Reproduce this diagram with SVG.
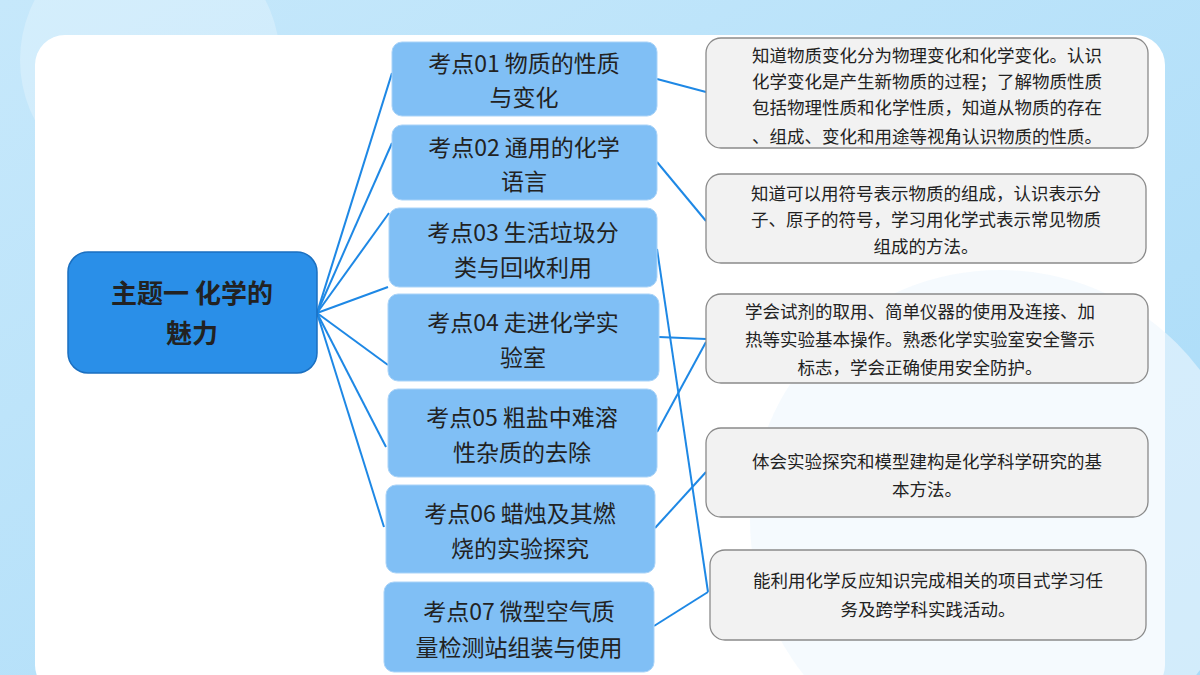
<svg xmlns="http://www.w3.org/2000/svg" width="1200" height="675" viewBox="0 0 1200 675">
<defs>
<linearGradient id="bg" x1="0" y1="0" x2="1" y2="1"><stop offset="0" stop-color="#c6e8fb"/><stop offset="1" stop-color="#a9dbf8"/></linearGradient>
<style>
.t{font-family:"Noto Sans CJK SC","Noto Sans",sans-serif;fill:#222;text-anchor:middle}
.k{fill:#80bff5;stroke:#a9d3f8;stroke-width:1}
.d{fill:#f2f2f2;stroke:#8a8a8a;stroke-width:1.3}
.tk{font-size:23px}
.td{font-size:17.5px}
#conn line,#conn polyline{stroke:#1e88e5;stroke-width:2;fill:none}
</style>
</defs>
<rect width="1200" height="675" fill="url(#bg)"/>
<circle cx="150" cy="60" r="130" fill="#fff" opacity="0.25"/>
<rect x="35" y="35" width="1130" height="660" rx="30" fill="#fff"/>
<circle cx="1000" cy="520" r="250" fill="#eef7fd" opacity="0.6"/>
<g id="conn">
<line x1="317" y1="313" x2="392" y2="73"/>
<line x1="317" y1="313" x2="392" y2="143"/>
<line x1="317" y1="313" x2="389" y2="213"/>
<line x1="317" y1="313" x2="388" y2="287"/>
<line x1="317" y1="313" x2="388" y2="365"/>
<line x1="317" y1="313" x2="386" y2="447"/>
<line x1="317" y1="313" x2="384" y2="527"/>
<line x1="657" y1="79" x2="706" y2="92"/>
<line x1="657" y1="162" x2="706" y2="221"/>
<line x1="657" y1="249" x2="708" y2="592"/>
<line x1="659" y1="337" x2="706" y2="339"/>
<line x1="657" y1="432" x2="706" y2="342"/>
<line x1="655" y1="528" x2="706" y2="472"/>
<line x1="654" y1="626" x2="708" y2="592"/>
</g>
<g id="main">
<rect x="68" y="252" width="249" height="121" rx="20" fill="#2a8fe8" stroke="#1a6fc0" stroke-width="1.5"/>
<text class="t" x="192" y="303" font-size="26" font-weight="bold">主题一  化学的</text>
<text class="t" x="192" y="343" font-size="26" font-weight="bold">魅力</text>
</g>
<g id="k1"><rect class="k" x="392" y="42" width="265" height="74" rx="10"/><text class="t tk" x="524" y="72">考点01  物质的性质</text><text class="t tk" x="524" y="106">与变化</text></g>
<g id="k2"><rect class="k" x="392" y="125" width="265" height="75" rx="10"/><text class="t tk" x="524" y="156">考点02  通用的化学</text><text class="t tk" x="524" y="190">语言</text></g>
<g id="k3"><rect class="k" x="389" y="208" width="268" height="79" rx="10"/><text class="t tk" x="523" y="241">考点03  生活垃圾分</text><text class="t tk" x="523" y="276">类与回收利用</text></g>
<g id="k4"><rect class="k" x="388" y="294" width="271" height="87" rx="10"/><text class="t tk" x="523" y="331">考点04  走进化学实</text><text class="t tk" x="523" y="366">验室</text></g>
<g id="k5"><rect class="k" x="388" y="389" width="269" height="88" rx="10"/><text class="t tk" x="522" y="426">考点05  粗盐中难溶</text><text class="t tk" x="522" y="461">性杂质的去除</text></g>
<g id="k6"><rect class="k" x="386" y="485" width="269" height="88" rx="10"/><text class="t tk" x="520" y="522">考点06  蜡烛及其燃</text><text class="t tk" x="520" y="557">烧的实验探究</text></g>
<g id="k7"><rect class="k" x="384" y="582" width="270" height="90" rx="10"/><text class="t tk" x="519" y="620">考点07  微型空气质</text><text class="t tk" x="519" y="656">量检测站组装与使用</text></g>
<g id="d1"><rect class="d" x="706" y="38" width="442" height="110" rx="15"/>
<text class="t td" x="927" y="62">知道物质变化分为物理变化和化学变化。认识</text>
<text class="t td" x="927" y="88">化学变化是产生新物质的过程；了解物质性质</text>
<text class="t td" x="927" y="114">包括物理性质和化学性质，知道从物质的存在</text>
<text class="t td" x="927" y="143">、组成、变化和用途等视角认识物质的性质。</text></g>
<g id="d2"><rect class="d" x="706" y="174" width="440" height="89" rx="15"/>
<text class="t td" x="926" y="200">知道可以用符号表示物质的组成，认识表示分</text>
<text class="t td" x="926" y="226">子、原子的符号，学习用化学式表示常见物质</text>
<text class="t td" x="926" y="253">组成的方法。</text></g>
<g id="d3"><rect class="d" x="706" y="294" width="442" height="89" rx="15"/>
<text class="t td" x="920" y="318">学会试剂的取用、简单仪器的使用及连接、加</text>
<text class="t td" x="920" y="346">热等实验基本操作。熟悉化学实验室安全警示</text>
<text class="t td" x="920" y="374">标志，学会正确使用安全防护。</text></g>
<g id="d4"><rect class="d" x="706" y="428" width="442" height="89" rx="15"/>
<text class="t td" x="927" y="468">体会实验探究和模型建构是化学科学研究的基</text>
<text class="t td" x="927" y="496">本方法。</text></g>
<g id="d5"><rect class="d" x="710" y="550" width="436" height="90" rx="15"/>
<text class="t td" x="928" y="587">能利用化学反应知识完成相关的项目式学习任</text>
<text class="t td" x="928" y="616">务及跨学科实践活动。</text></g>
</svg>
